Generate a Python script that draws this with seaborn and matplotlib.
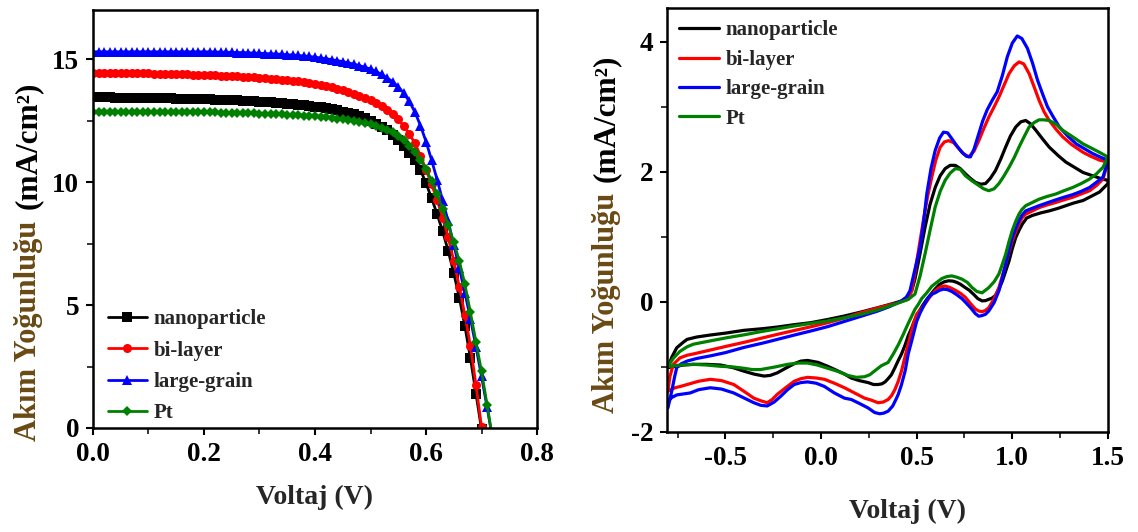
import numpy as np
import pandas as pd
import matplotlib
matplotlib.use("Agg")
import matplotlib.pyplot as plt
import seaborn as sns
from matplotlib.ticker import MultipleLocator

# ---- J-V curves (left panel), one point every 10 mV ----
volt_jv = [0.00, 0.01, 0.02, 0.03, 0.04, 0.05, 0.06, 0.07, 0.08, 0.09,
           0.10, 0.11, 0.12, 0.13, 0.14, 0.15, 0.16, 0.17, 0.18, 0.19,
           0.20, 0.21, 0.22, 0.23, 0.24, 0.25, 0.26, 0.27, 0.28, 0.29,
           0.30, 0.31, 0.32, 0.33, 0.34, 0.35, 0.36, 0.37, 0.38, 0.39,
           0.40, 0.41, 0.42, 0.43, 0.44, 0.45, 0.46, 0.47, 0.48, 0.49,
           0.50, 0.51, 0.52, 0.53, 0.54, 0.55, 0.56, 0.57, 0.58, 0.59,
           0.60, 0.61, 0.62, 0.63, 0.64, 0.65, 0.66, 0.67, 0.68, 0.69,
           0.70, 0.71, 0.72]

jv_nano = [13.45, 13.45, 13.45, 13.45, 13.44, 13.44, 13.44, 13.43, 13.43, 13.43,
           13.42, 13.42, 13.42, 13.41, 13.41, 13.40, 13.40, 13.39, 13.39, 13.38,
           13.38, 13.37, 13.36, 13.35, 13.34, 13.33, 13.32, 13.31, 13.30, 13.29,
           13.27, 13.26, 13.24, 13.23, 13.21, 13.19, 13.17, 13.15, 13.13, 13.10,
           13.07, 13.04, 13.00, 12.96, 12.92, 12.87, 12.81, 12.75, 12.68, 12.60,
           12.50, 12.38, 12.25, 12.10, 11.92, 11.70, 11.45, 11.18, 10.88, 10.50,
           9.95, 9.35, 8.70, 8.00, 7.20, 6.30, 5.30, 4.15, 2.85, 1.40,
           -0.05]

jv_bilayer = [14.45, 14.45, 14.45, 14.44, 14.44, 14.44, 14.43, 14.43, 14.43, 14.42,
              14.42, 14.41, 14.41, 14.40, 14.40, 14.39, 14.39, 14.38, 14.37, 14.37,
              14.36, 14.35, 14.34, 14.33, 14.32, 14.31, 14.30, 14.29, 14.28, 14.26,
              14.25, 14.23, 14.21, 14.19, 14.17, 14.15, 14.13, 14.10, 14.07, 14.04,
              14.00, 13.96, 13.91, 13.86, 13.80, 13.74, 13.67, 13.60, 13.52, 13.43,
              13.33, 13.22, 13.09, 12.94, 12.76, 12.55, 12.28, 11.96, 11.58, 11.08,
              10.50, 9.92, 9.28, 8.55, 7.75, 6.80, 5.75, 4.60, 3.35, 1.75,
              0.05]

jv_large = [15.30, 15.30, 15.30, 15.30, 15.30, 15.30, 15.30, 15.30, 15.30, 15.30,
            15.30, 15.30, 15.30, 15.30, 15.30, 15.30, 15.30, 15.30, 15.30, 15.30,
            15.30, 15.30, 15.29, 15.29, 15.28, 15.28, 15.27, 15.27, 15.26, 15.25,
            15.24, 15.23, 15.22, 15.21, 15.20, 15.18, 15.17, 15.15, 15.13, 15.11,
            15.08, 15.05, 15.02, 14.98, 14.94, 14.90, 14.85, 14.80, 14.74, 14.67,
            14.60, 14.50, 14.38, 14.24, 14.08, 13.88, 13.62, 13.28, 12.85, 12.30,
            11.65, 10.90, 10.10, 9.25, 8.40, 7.45, 6.50, 5.50, 4.45, 3.30,
            2.10, 0.85, -0.45]

jv_pt = [12.85, 12.85, 12.85, 12.85, 12.85, 12.85, 12.85, 12.85, 12.85, 12.85,
         12.85, 12.85, 12.85, 12.85, 12.85, 12.85, 12.85, 12.85, 12.85, 12.85,
         12.85, 12.84, 12.84, 12.83, 12.83, 12.82, 12.82, 12.81, 12.80, 12.80,
         12.79, 12.78, 12.77, 12.76, 12.75, 12.74, 12.73, 12.72, 12.70, 12.69,
         12.67, 12.65, 12.63, 12.61, 12.58, 12.55, 12.52, 12.49, 12.45, 12.41,
         12.37, 12.30, 12.22, 12.13, 12.02, 11.88, 11.70, 11.48, 11.22, 10.90,
         10.52, 10.05, 9.50, 8.90, 8.25, 7.55, 6.80, 5.85, 4.70, 3.50,
         2.30, 0.95, -0.45]

# ---- cyclic voltammograms (right panel): forward scan then reverse scan ----
nano_fwd_v = [-0.80, -0.78, -0.754, -0.72, -0.70, -0.65, -0.579, -0.50, -0.403, -0.30,
              -0.228, -0.14, -0.053, 0.035, 0.123, 0.21, 0.298, 0.37, 0.421, 0.45,
              0.474, 0.491, 0.515, 0.544, 0.57, 0.597, 0.623, 0.649, 0.675, 0.702,
              0.728, 0.755, 0.781, 0.807, 0.835, 0.86, 0.885, 0.912, 0.94, 0.965,
              0.99, 1.018, 1.045, 1.07, 1.095, 1.123, 1.16, 1.193, 1.24, 1.28,
              1.33, 1.37, 1.41, 1.44, 1.47, 1.50]
nano_fwd_j = [-1.01, -0.85, -0.705, -0.62, -0.576, -0.54, -0.509, -0.48, -0.437, -0.41,
              -0.386, -0.35, -0.319, -0.27, -0.216, -0.155, -0.088, -0.03, 0.015, 0.08,
              0.17, 0.35, 0.70, 1.15, 1.50, 1.76, 1.94, 2.05, 2.10, 2.10,
              2.05, 1.97, 1.90, 1.84, 1.81, 1.82, 1.90, 2.02, 2.20, 2.38,
              2.55, 2.69, 2.77, 2.79, 2.74, 2.64, 2.50, 2.38, 2.25, 2.15,
              2.06, 1.99, 1.95, 1.92, 1.89, 1.87]
nano_rev_v = [1.50, 1.48, 1.456, 1.41, 1.37, 1.32, 1.28, 1.24, 1.193, 1.15,
              1.105, 1.075, 1.053, 1.035, 1.018, 1.0, 0.983, 0.965, 0.948, 0.93,
              0.912, 0.895, 0.877, 0.86, 0.842, 0.82, 0.80, 0.775, 0.754, 0.73,
              0.71, 0.69, 0.667, 0.645, 0.62, 0.597, 0.575, 0.553, 0.53, 0.509,
              0.49, 0.474, 0.456, 0.44, 0.421, 0.404, 0.385, 0.368, 0.351, 0.335,
              0.318, 0.298, 0.275, 0.246, 0.20, 0.158, 0.123, 0.08, 0.035, -0.015,
              -0.07, -0.105, -0.14, -0.185, -0.228, -0.265, -0.298, -0.35, -0.403, -0.46,
              -0.526, -0.60, -0.667, -0.72, -0.754, -0.78, -0.80]
nano_rev_j = [1.82, 1.76, 1.69, 1.62, 1.56, 1.52, 1.48, 1.44, 1.40, 1.37,
              1.33, 1.29, 1.20, 1.10, 0.99, 0.82, 0.63, 0.47, 0.32, 0.20,
              0.10, 0.06, 0.04, 0.02, 0.016, 0.05, 0.11, 0.18, 0.22, 0.27,
              0.30, 0.32, 0.325, 0.31, 0.27, 0.20, 0.12, 0.04, -0.06, -0.164,
              -0.28, -0.40, -0.52, -0.66, -0.80, -0.90, -1.02, -1.12, -1.18, -1.23,
              -1.26, -1.27, -1.27, -1.24, -1.21, -1.17, -1.11, -1.05, -0.99, -0.93,
              -0.90, -0.91, -0.95, -1.02, -1.09, -1.13, -1.14, -1.11, -1.065, -1.01,
              -0.97, -0.96, -0.96, -0.97, -0.99, -1.0, -1.01]

bi_fwd_v = [-0.80, -0.79, -0.772, -0.737, -0.70, -0.667, -0.58, -0.491, -0.40, -0.316,
            -0.23, -0.14, -0.05, 0.035, 0.12, 0.21, 0.30, 0.386, 0.42, 0.456,
            0.474, 0.491, 0.513, 0.535, 0.557, 0.579, 0.60, 0.623, 0.645, 0.667,
            0.693, 0.72, 0.745, 0.772, 0.80, 0.825, 0.85, 0.877, 0.905, 0.93,
            0.955, 0.983, 1.01, 1.035, 1.06, 1.088, 1.115, 1.14, 1.165, 1.193,
            1.23, 1.263, 1.31, 1.37, 1.41, 1.456, 1.50]
bi_fwd_j = [-1.37, -1.15, -0.96, -0.86, -0.82, -0.80, -0.74, -0.68, -0.62, -0.56,
            -0.50, -0.44, -0.38, -0.32, -0.25, -0.165, -0.09, -0.025, 0.005, 0.04,
            0.17, 0.45, 0.85, 1.25, 1.62, 1.92, 2.18, 2.38, 2.46, 2.48,
            2.45, 2.36, 2.28, 2.23, 2.32, 2.48, 2.66, 2.84, 3.00, 3.15,
            3.32, 3.51, 3.63, 3.69, 3.66, 3.51, 3.30, 3.10, 2.93, 2.79,
            2.65, 2.54, 2.42, 2.30, 2.24, 2.18, 2.15]
bi_rev_v = [1.50, 1.474, 1.44, 1.404, 1.36, 1.316, 1.27, 1.228, 1.18, 1.14,
            1.105, 1.07, 1.05, 1.035, 1.018, 1.0, 0.983, 0.965, 0.948, 0.93,
            0.905, 0.877, 0.86, 0.842, 0.825, 0.807, 0.78, 0.755, 0.73, 0.702,
            0.675, 0.649, 0.623, 0.597, 0.57, 0.544, 0.52, 0.50, 0.483, 0.465,
            0.443, 0.421, 0.404, 0.386, 0.369, 0.351, 0.325, 0.298, 0.263, 0.228,
            0.175, 0.123, 0.07, 0.018, -0.025, -0.07, -0.105, -0.14, -0.185, -0.228,
            -0.255, -0.281, -0.315, -0.351, -0.40, -0.456, -0.52, -0.579, -0.64, -0.70,
            -0.735, -0.763, -0.785, -0.80]
bi_rev_j = [2.15, 1.89, 1.79, 1.71, 1.66, 1.61, 1.57, 1.53, 1.49, 1.45,
            1.40, 1.35, 1.29, 1.20, 1.08, 0.94, 0.77, 0.58, 0.40, 0.22,
            0.05, -0.09, -0.13, -0.15, -0.14, -0.11, -0.02, 0.07, 0.13, 0.18,
            0.22, 0.245, 0.23, 0.17, 0.08, -0.03, -0.12, -0.19, -0.33, -0.55,
            -0.80, -1.06, -1.22, -1.35, -1.44, -1.50, -1.54, -1.55, -1.51, -1.48,
            -1.40, -1.32, -1.25, -1.19, -1.17, -1.16, -1.18, -1.22, -1.32, -1.42,
            -1.50, -1.55, -1.52, -1.48, -1.38, -1.27, -1.21, -1.19, -1.22, -1.27,
            -1.30, -1.32, -1.35, -1.37]

lg_fwd_v = [-0.80, -0.79, -0.78, -0.765, -0.754, -0.73, -0.70, -0.65, -0.579, -0.50,
            -0.403, -0.30, -0.228, -0.14, -0.053, 0.035, 0.123, 0.21, 0.298, 0.36,
            0.421, 0.444, 0.465, 0.483, 0.50, 0.518, 0.535, 0.553, 0.575, 0.597,
            0.62, 0.64, 0.662, 0.684, 0.71, 0.737, 0.76, 0.781, 0.80, 0.825,
            0.845, 0.868, 0.895, 0.921, 0.948, 0.974, 1.0, 1.026, 1.05, 1.079,
            1.105, 1.132, 1.158, 1.184, 1.215, 1.246,
            1.29, 1.334, 1.38, 1.421, 1.465, 1.50]
lg_fwd_j = [-1.63, -1.50, -1.37, -1.15, -1.01, -0.95, -0.91, -0.87, -0.83, -0.78,
            -0.70, -0.63, -0.576, -0.51, -0.447, -0.38, -0.30, -0.22, -0.139, -0.07,
            0.015, 0.06, 0.17, 0.40, 0.62, 0.84, 1.20, 1.66, 2.05, 2.33,
            2.52, 2.61, 2.60, 2.51, 2.40, 2.30, 2.24, 2.23, 2.35, 2.59,
            2.78, 2.95, 3.10, 3.23, 3.48, 3.77, 3.98, 4.09, 4.05, 3.90,
            3.68, 3.41, 3.20, 3.00, 2.84, 2.69,
            2.55, 2.43, 2.35, 2.28, 2.22, 2.18]
lg_rev_v = [1.50, 1.474, 1.44, 1.404, 1.36, 1.316, 1.27, 1.228, 1.18, 1.14,
            1.105, 1.07, 1.05, 1.035, 1.018, 1.0, 0.983, 0.965, 0.948, 0.93,
            0.905, 0.877, 0.86, 0.842, 0.825, 0.807, 0.785, 0.76, 0.737, 0.71,
            0.684, 0.66, 0.64, 0.62, 0.597, 0.579, 0.56, 0.544, 0.518, 0.50,
            0.474, 0.456, 0.44, 0.42, 0.404, 0.395, 0.375, 0.351, 0.328, 0.307,
            0.28, 0.246, 0.20, 0.158, 0.123, 0.07, 0.018, -0.025, -0.07, -0.105,
            -0.14, -0.175, -0.21, -0.245, -0.281, -0.315, -0.351, -0.40, -0.456, -0.52,
            -0.579, -0.64, -0.684, -0.754, -0.78, -0.80]
lg_rev_j = [2.18, 1.92, 1.84, 1.76, 1.70, 1.65, 1.61, 1.57, 1.52, 1.48,
            1.44, 1.40, 1.33, 1.25, 1.13, 0.99, 0.80, 0.58, 0.37, 0.17,
            -0.01, -0.14, -0.19, -0.21, -0.22, -0.18, -0.10, -0.02, 0.05, 0.11,
            0.16, 0.19, 0.196, 0.18, 0.14, 0.12, 0.06, -0.02, -0.17, -0.30,
            -0.60, -0.80, -1.06, -1.28, -1.42, -1.48, -1.60, -1.68, -1.71, -1.72,
            -1.70, -1.63, -1.56, -1.50, -1.48, -1.40, -1.30, -1.25, -1.23, -1.24,
            -1.27, -1.35, -1.45, -1.54, -1.60, -1.59, -1.55, -1.48, -1.40, -1.34,
            -1.32, -1.35, -1.40, -1.43, -1.47, -1.53]

pt_fwd_v = [-0.80, -0.77, -0.737, -0.70, -0.667, -0.58, -0.491, -0.40, -0.316, -0.23,
            -0.14, -0.05, 0.035, 0.12, 0.21, 0.30, 0.386, 0.42, 0.456, 0.491,
            0.518, 0.544, 0.57, 0.597, 0.623, 0.649, 0.675, 0.702, 0.728, 0.755,
            0.79, 0.825, 0.85, 0.877, 0.905, 0.93, 0.955, 0.983, 1.01, 1.035,
            1.06, 1.088, 1.115, 1.14, 1.165, 1.193, 1.23, 1.263, 1.31, 1.37,
            1.41, 1.456, 1.48, 1.50]
pt_fwd_j = [-0.99, -0.86, -0.76, -0.69, -0.65, -0.60, -0.55, -0.505, -0.458, -0.415,
            -0.37, -0.33, -0.293, -0.245, -0.19, -0.12, -0.036, 0.0, 0.04, 0.12,
            0.40, 0.74, 1.10, 1.46, 1.70, 1.87, 1.98, 2.05, 2.04, 1.94,
            1.86, 1.79, 1.74, 1.71, 1.74, 1.82, 1.93, 2.07, 2.22, 2.38,
            2.53, 2.69, 2.76, 2.80, 2.80, 2.79, 2.73, 2.64, 2.55, 2.43,
            2.37, 2.30, 2.26, 2.23]
pt_rev_v = [1.50, 1.474, 1.44, 1.404, 1.36, 1.316, 1.27, 1.228, 1.18, 1.14,
            1.105, 1.07, 1.05, 1.035, 1.018, 1.0, 0.983, 0.965, 0.948, 0.93,
            0.905, 0.877, 0.86, 0.842, 0.815, 0.79, 0.765, 0.737, 0.71, 0.684,
            0.658, 0.632, 0.605, 0.579, 0.553, 0.526, 0.509, 0.49, 0.474, 0.456,
            0.43, 0.404, 0.378, 0.351, 0.316, 0.281, 0.255, 0.228, 0.185, 0.14,
            0.09, 0.035, -0.02, -0.07, -0.12, -0.175, -0.24, -0.316, -0.36, -0.403,
            -0.46, -0.526, -0.60, -0.667, -0.73, -0.80]
pt_rev_j = [2.23, 2.07, 1.97, 1.89, 1.82, 1.76, 1.71, 1.66, 1.62, 1.58,
            1.53, 1.48, 1.42, 1.35, 1.24, 1.10, 0.93, 0.73, 0.58, 0.43,
            0.31, 0.22, 0.18, 0.14, 0.16, 0.22, 0.30, 0.35, 0.38, 0.40,
            0.39, 0.36, 0.30, 0.24, 0.14, 0.05, -0.036, -0.12, -0.22, -0.33,
            -0.50, -0.66, -0.80, -0.93, -0.98, -1.06, -1.12, -1.15, -1.16, -1.13,
            -1.07, -1.02, -0.97, -0.94, -0.94, -0.96, -1.0, -1.04, -1.04, -1.02,
            -1.0, -0.99, -0.97, -0.96, -0.97, -0.99]

labels = ["nanoparticle", "bi-layer", "large-grain", "Pt"]
colors = ["#000000", "#ff0000", "#0000ff", "#008000"]
markers = ["s", "o", "^", "D"]
label_brown = "#6a4a14"

sns.set_theme(style="ticks")
plt.rcParams["font.family"] = ["Liberation Serif", "DejaVu Serif"]
plt.rcParams["font.weight"] = "bold"
plt.rcParams["axes.unicode_minus"] = False
plt.rcParams["axes.linewidth"] = 1.8

fig = plt.figure(figsize=(11.38, 5.32), dpi=100)
ax1 = fig.add_axes([0.0817, 0.1955, 0.3902, 0.7857])
ax2 = fig.add_axes([0.5861, 0.188, 0.3875, 0.797])

# left panel: J-V
jv_series = [jv_nano, jv_bilayer, jv_large, jv_pt]
for vals, lab, col, mk in zip(jv_series, labels, colors, markers):
    df = pd.DataFrame({"V": volt_jv[:len(vals)], "J": vals})
    sns.lineplot(data=df, x="V", y="J", ax=ax1, color=col, label=lab,
                 marker=mk, markersize=6.5 if mk != "D" else 5.5,
                 markeredgewidth=0, linewidth=2.0)

ax1.set_xlim(0, 0.8)
ax1.set_ylim(0, 17)
ax1.xaxis.set_major_locator(MultipleLocator(0.2))
ax1.xaxis.set_minor_locator(MultipleLocator(0.1))
ax1.yaxis.set_major_locator(MultipleLocator(5))
ax1.yaxis.set_minor_locator(MultipleLocator(2.5))
ax1.set_xticks([0.0, 0.2, 0.4, 0.6, 0.8])
ax1.set_xticklabels(["0.0", "0.2", "0.4", "0.6", "0.8"])
ax1.legend(loc="lower left", bbox_to_anchor=(0.0, -0.024), frameon=False,
           handlelength=1.9, handletextpad=0.3, labelspacing=0.55,
           borderaxespad=0.3, prop={"weight": "bold", "size": 15})

# right panel: CV loops
cv_loops = [
    (nano_fwd_v + nano_rev_v, nano_fwd_j + nano_rev_j),
    (bi_fwd_v + bi_rev_v, bi_fwd_j + bi_rev_j),
    (lg_fwd_v + lg_rev_v, lg_fwd_j + lg_rev_j),
    (pt_fwd_v + pt_rev_v, pt_fwd_j + pt_rev_j),
]
for (vv, jj), lab, col in zip(cv_loops, labels, colors):
    df = pd.DataFrame({"V": vv, "J": jj})
    sns.lineplot(data=df, x="V", y="J", ax=ax2, color=col, label=lab,
                 sort=False, estimator=None, linewidth=2.3)

ax2.set_xlim(-0.805, 1.5)
ax2.set_ylim(-2, 4.52)
ax2.xaxis.set_major_locator(MultipleLocator(0.5))
ax2.xaxis.set_minor_locator(MultipleLocator(0.25))
ax2.yaxis.set_major_locator(MultipleLocator(2))
ax2.yaxis.set_minor_locator(MultipleLocator(1))
ax2.set_xticks([-0.5, 0.0, 0.5, 1.0, 1.5])
ax2.set_xticklabels(["-0.5", "0.0", "0.5", "1.0", "1.5"])
ax2.legend(loc="upper left", bbox_to_anchor=(0.0, 1.0), frameon=False,
           handlelength=1.9, handletextpad=0.3, labelspacing=0.45,
           borderaxespad=0.2, prop={"weight": "bold", "size": 15})

for ax in (ax1, ax2):
    for sp in ax.spines.values():
        sp.set_visible(True)
        sp.set_linewidth(1.8)
        sp.set_color("black")
    ax.tick_params(which="major", direction="out", length=5, width=1.5,
                   labelsize=19.5, pad=5, colors="black")
    ax.tick_params(which="minor", direction="out", length=4, width=1.3)
    for tl in ax.get_xticklabels() + ax.get_yticklabels():
        tl.set_fontweight("bold")
    ax.set_ylabel("")
    ax.set_xlabel("Voltaj (V)", fontsize=20, fontweight="bold")

ax1.xaxis.set_label_coords(0.5, -0.135)
ax2.xaxis.set_label_coords(0.546, -0.158)


def two_part_ylabel(ax, x, y):
    t1 = ax.text(x, y, "Akım Yoğunluğu", transform=ax.transAxes, rotation=90,
                 ha="center", va="bottom", fontsize=22, fontweight="bold",
                 color=label_brown)
    ax.annotate("(mA/cm²)", xy=(0.5, 1.0), xycoords=t1, xytext=(0, 8),
                textcoords="offset points", rotation=90, ha="center",
                va="bottom", fontsize=22.5, fontweight="bold", color="black")


two_part_ylabel(ax1, -0.146, -0.03)
two_part_ylabel(ax2, -0.138, 0.045)

fig.savefig("out.png", dpi=100)
